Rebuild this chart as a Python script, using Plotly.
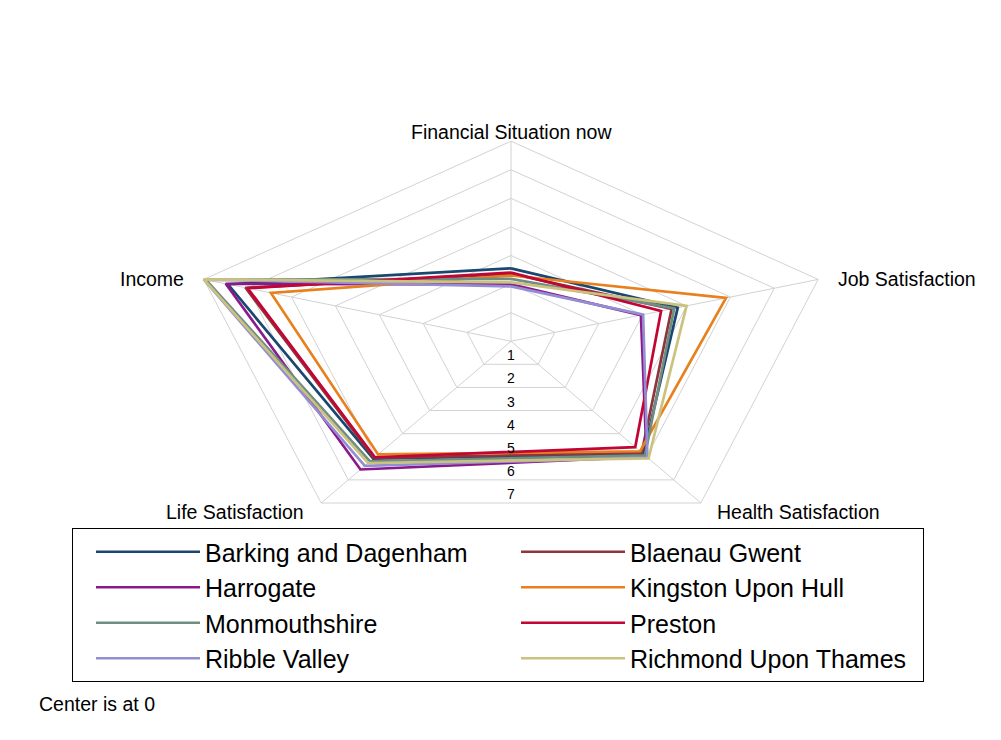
import numpy as np
import plotly.graph_objects as go

# ---- data ----
spokes = ["Financial Situation now", "Job Satisfaction", "Health Satisfaction",
          "Life Satisfaction", "Income"]
areas = ["Barking and Dagenham", "Blaenau Gwent", "Harrogate", "Kingston Upon Hull",
         "Monmouthshire", "Preston", "Ribble Valley", "Richmond Upon Thames"]
financial = [2.55, 2.36, 1.99, 2.30, 2.18, 2.40, 1.92, 2.06]
job       = [3.80, 3.66, 2.96, 4.90, 3.72, 3.42, 3.01, 4.00]
health    = [4.88, 4.82, 5.00, 4.76, 4.94, 4.58, 5.03, 5.07]
life      = [5.08, 5.05, 5.55, 4.90, 5.20, 5.02, 5.39, 5.27]
income    = [6.45, 6.05, 6.50, 5.47, 6.95, 6.00, 7.00, 7.00]
rings = [1, 2, 3, 4, 5, 6, 7]
ring_labels = ["1", "2", "3", "4", "5", "6", "7"]
colors = ["#1a476f", "#90353b", "#8a1a8c", "#e8801e",
          "#6e8e84", "#c10534", "#938dd2", "#cac27e"]

# ---- geometry ----
FONT = "Liberation Sans, Arial, sans-serif"
W, H = 1001, 740
OFF = 8  # page body margin compensation
cx_px, cy_px = 511 - OFF, 341.2 - OFF
px_x = 323.0 / 7     # pixels per unit horizontally
px_y = 200.0 / 7     # pixels per unit vertically
xr = [-cx_px / px_x, (W - cx_px) / px_x]
yr = [-(H - cy_px) / px_y, cy_px / px_y]

n = len(spokes)
theta = np.deg2rad(90 - 72 * np.arange(n))
ct, st = np.cos(theta), np.sin(theta)
closed = list(range(n)) + [0]

fig = go.Figure()

# grid rings
for r in rings:
    fig.add_trace(go.Scatter(x=[r * ct[i] for i in closed], y=[r * st[i] for i in closed],
                             mode="lines", line=dict(color="#d2d2d2", width=1),
                             hoverinfo="skip", showlegend=False))
# spokes
sx, sy = [], []
rmax = max(rings)
for i in range(n):
    sx += [0, rmax * ct[i], None]
    sy += [0, rmax * st[i], None]
fig.add_trace(go.Scatter(x=sx, y=sy, mode="lines", line=dict(color="#d2d2d2", width=1),
                         hoverinfo="skip", showlegend=False))

# series
for k, name in enumerate(areas):
    vals = [financial[k], job[k], health[k], life[k], income[k]]
    fig.add_trace(go.Scatter(x=[vals[i] * ct[i] for i in closed],
                             y=[vals[i] * st[i] for i in closed],
                             mode="lines", name=name,
                             line=dict(color=colors[k], width=2.7)))

ann = []
# ring value labels along downward direction (bottom edge of each ring)
for r, lab in zip(rings, ring_labels):
    ann.append(dict(x=0, y=-r * np.cos(np.deg2rad(36)), text=lab, showarrow=False,
                    xanchor="center", yanchor="bottom", yshift=-1,
                    font=dict(size=14, color="black", family=FONT)))
# spoke labels
pos = [dict(xanchor="center", yanchor="bottom", xshift=0, yshift=-4),
       dict(xanchor="left", yanchor="middle", xshift=18, yshift=0),
       dict(xanchor="left", yanchor="top", xshift=14, yshift=4),
       dict(xanchor="right", yanchor="top", xshift=-15, yshift=4),
       dict(xanchor="right", yanchor="middle", xshift=-18, yshift=0)]
for i in range(n):
    ann.append(dict(x=rmax * ct[i], y=rmax * st[i], text=spokes[i], showarrow=False,
                    font=dict(size=19.5, color="black", family=FONT), **pos[i]))
ann.append(dict(x=(37 - OFF) / W, y=1 - (704 - OFF) / H, xref="paper", yref="paper",
                text="Center is at 0", showarrow=False, xanchor="left", yanchor="middle",
                font=dict(size=19.5, color="black", family=FONT)))

fig.update_layout(
    width=W, height=H, autosize=False,
    margin=dict(l=0, r=0, t=0, b=0),
    paper_bgcolor="white", plot_bgcolor="white",
    xaxis=dict(range=xr, visible=False, fixedrange=True),
    yaxis=dict(range=yr, visible=False, fixedrange=True),
    annotations=ann,
    showlegend=True,
    legend=dict(orientation="h", x=(72 - OFF) / W, y=1 - (528 - OFF) / H,
                xanchor="left", yanchor="top",
                entrywidth=288, itemwidth=104, indentation=18,
                bordercolor="black", borderwidth=1, bgcolor="white",
                font=dict(size=25, color="black", family=FONT)),
    font=dict(family=FONT),
)

fig.write_html("out.html")
